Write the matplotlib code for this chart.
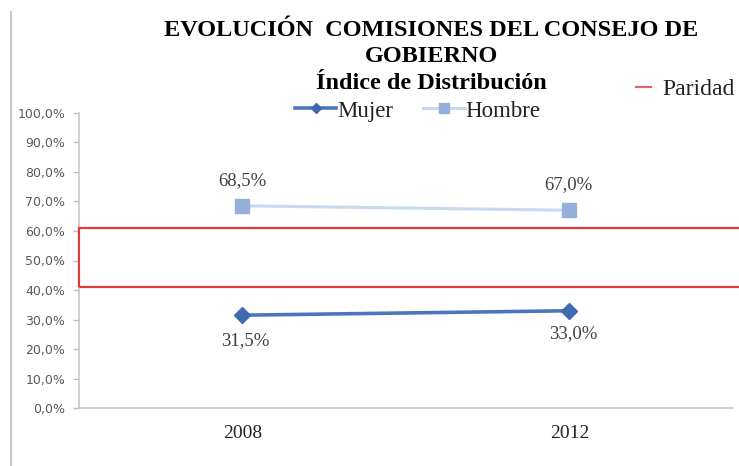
import matplotlib
matplotlib.use("Agg")
import matplotlib.pyplot as plt
from matplotlib.patches import Rectangle
from matplotlib.lines import Line2D

# ---- data ----
years = ['2008', '2012']
mujer = [31.5, 33.0]
hombre = [68.5, 67.0]
paridad_low = 40.9
paridad_high = 60.9
yticks = [0, 10, 20, 30, 40, 50, 60, 70, 80, 90, 100]

SERIF = 'Liberation Serif'
W, H = 739, 466

fig = plt.figure(figsize=(W / 100, H / 100), dpi=100)
ax = fig.add_axes([79 / W, 1 - 408.3 / H, (733 - 79) / W, (408.3 - 112.7) / H])

x = list(range(len(years)))
ax.plot(x, mujer, color='#4A76BE', lw=2.6, marker='D', ms=8.5,
        mfc='#3F6AAE', mec='#3F6AAE', label='Mujer', zorder=4)
ax.plot(x, hombre, color='#C6D9F1', lw=2.2, marker='s', ms=10,
        mfc='#95B0D8', mec='#95B0D8', label='Hombre', zorder=4)

# data labels
offs_h = [(0, 25), (-1, 26)]
offs_m = [(3, -25), (4, -23)]
for i, v in enumerate(hombre):
    ax.annotate(f"{v:.1f}%".replace('.', ','), (x[i], v), xytext=offs_h[i],
                textcoords='offset pixels', ha='center', va='center',
                fontsize=13.5, family=SERIF, color='#404040')
for i, v in enumerate(mujer):
    ax.annotate(f"{v:.1f}%".replace('.', ','), (x[i], v), xytext=offs_m[i],
                textcoords='offset pixels', ha='center', va='center',
                fontsize=13.5, family=SERIF, color='#404040')

# parity band
ax.add_patch(Rectangle((-0.5, paridad_low), 2.3, paridad_high - paridad_low,
                       fill=False, ec='#E0393E', lw=1.6, clip_on=False, zorder=3))

ax.set_xlim(-0.5, 1.5)
ax.set_ylim(0, 100)
ax.set_xticks(x)
ax.set_xticklabels(years, fontsize=14, family=SERIF, color='#222222')
ax.set_yticks(yticks)
ax.set_yticklabels([f"{v:.1f}%".replace('.', ',') for v in yticks],
                   fontsize=9, family='DejaVu Sans', color='#595959')
ax.tick_params(axis='x', length=0, pad=12)
ax.tick_params(axis='y', length=4.3, width=1, color='#BFBFBF', pad=5.5)
for s in ['top', 'right']:
    ax.spines[s].set_visible(False)
for s in ['left', 'bottom']:
    ax.spines[s].set_color('#C8C8C8')
    ax.spines[s].set_linewidth(1.2)

# titles
fig.text(431 / W, 1 - 36 / H, 'EVOLUCIÓN  COMISIONES DEL CONSEJO DE', ha='center',
         va='baseline', fontsize=17.5, fontweight='bold', family=SERIF)
fig.text(431 / W, 1 - 62 / H, 'GOBIERNO', ha='center',
         va='baseline', fontsize=17.5, fontweight='bold', family=SERIF)
fig.text(431 / W, 1 - 89 / H, 'Índice de Distribución', ha='center',
         va='baseline', fontsize=17.5, fontweight='bold', family=SERIF)

# legend
leg = fig.legend(loc='center', bbox_to_anchor=(418 / W, 1 - 111 / H), ncol=2,
                 frameon=False, handlelength=1.8, handletextpad=0.05,
                 columnspacing=1.3, borderpad=0, numpoints=1, markerscale=0.65,
                 prop={'family': SERIF, 'size': 16.5})
for t in leg.get_texts():
    t.set_color('#222222')

# Paridad legend entry
fig.add_artist(Line2D([636 / W, 651 / W], [1 - 87 / H, 1 - 87 / H],
                      color='#E06666', lw=1.6))
fig.text(662 / W, 1 - 95 / H, 'Paridad', ha='left', va='baseline',
         fontsize=17, family=SERIF, color='#222222')

# page border line on left
fig.add_artist(Line2D([11 / W, 11 / W], [0, 1 - 12 / H], color='#C8C8C8', lw=1.5))

fig.savefig('out.png', dpi=100)
